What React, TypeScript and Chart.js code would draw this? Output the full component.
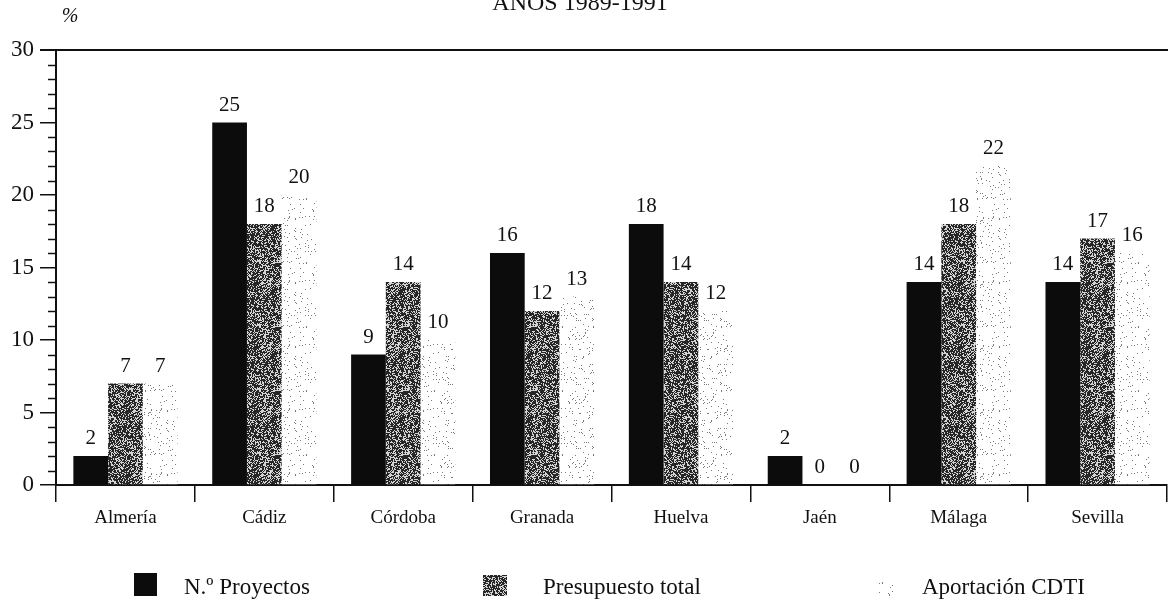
import React, { useEffect, useRef } from "react";
import { Chart, registerables } from "chart.js";

Chart.register(...registerables);

// ---- data ----
const title = "AÑOS 1989-1991";
const unitLabel = "%";
const provinces = ["Almería", "Cádiz", "Córdoba", "Granada", "Huelva", "Jaén", "Málaga", "Sevilla"];
const proyectos = [2, 25, 9, 16, 18, 2, 14, 14];
const presupuesto = [7, 18, 14, 12, 14, 0, 18, 17];
const aportacion = [7, 20, 10, 13, 12, 0, 22, 16];
const seriesNames = ["N.º Proyectos", "Presupuesto total", "Aportación CDTI"];
const yTicks = [0, 5, 10, 15, 20, 25, 30];

const SERIF = '"Liberation Serif", "Times New Roman", serif';
const INK = "#111111";

// deterministic per-pixel hash used for the stipple textures
function cellHash(x: number, y: number): number {
  let h = (Math.imul(x, 374761393) + Math.imul(y, 668265263)) | 0;
  h = Math.imul(h ^ (h >>> 13), 1274126177);
  h = h ^ (h >>> 16);
  return (h >>> 0) / 4294967296;
}

function stipple(base: string, dot: string, density: number, size = 64): CanvasPattern | string {
  const c = document.createElement("canvas");
  c.width = size;
  c.height = size;
  const g = c.getContext("2d");
  if (!g) return base;
  g.fillStyle = base;
  g.fillRect(0, 0, size, size);
  g.fillStyle = dot;
  for (let y = 0; y < size; y++) {
    for (let x = 0; x < size; x++) {
      if (cellHash(x, y) < density) g.fillRect(x, y, 1, 1);
    }
  }
  const p = g.createPattern(c, "repeat");
  return p || base;
}

// legend layout: swatch rect and text start
const legendSlots = [
  { x: 134, y: 573, w: 23, h: 23, tx: 184 },
  { x: 483, y: 575, w: 24, h: 21, tx: 543 },
  { x: 877, y: 579, w: 16, h: 18, tx: 922 },
];

const decorPlugin = {
  id: "decor",
  afterDraw(chart: any) {
    const ctx = chart.ctx as CanvasRenderingContext2D;
    const ys = chart.scales.y;
    const area = chart.chartArea;
    ctx.save();

    // top rule at the maximum of the scale
    const yTop = ys.getPixelForValue(30);
    ctx.strokeStyle = INK;
    ctx.lineWidth = 2;
    ctx.beginPath();
    ctx.moveTo(40, yTop);
    ctx.lineTo(chart.width, yTop);
    ctx.stroke();

    // minor ticks on the value axis
    ctx.lineWidth = 1.5;
    for (let v = 0; v <= 30; v++) {
      if (v % 5 === 0) continue;
      const py = Math.round(ys.getPixelForValue(v)) + 0.5;
      ctx.beginPath();
      ctx.moveTo(area.left - 8, py);
      ctx.lineTo(area.left, py);
      ctx.stroke();
    }

    // value labels above the bars
    ctx.fillStyle = INK;
    ctx.font = `21px ${SERIF}`;
    ctx.textAlign = "center";
    ctx.textBaseline = "alphabetic";
    chart.data.datasets.forEach((ds: any, i: number) => {
      const meta = chart.getDatasetMeta(i);
      meta.data.forEach((bar: any, j: number) => {
        ctx.fillText(String(ds.data[j]), bar.x, bar.y - 12);
      });
    });

    // unit and title
    ctx.font = `italic 20px ${SERIF}`;
    ctx.fillText(unitLabel, 70, 22);
    ctx.font = `24px ${SERIF}`;
    ctx.fillText(title, 580, 10);

    // legend
    ctx.textAlign = "left";
    ctx.font = `23px ${SERIF}`;
    chart.data.datasets.forEach((ds: any, i: number) => {
      const s = legendSlots[i];
      ctx.fillStyle = ds.backgroundColor;
      ctx.fillRect(s.x, s.y, s.w, s.h);
      ctx.fillStyle = INK;
      ctx.fillText(ds.label, s.tx, 594);
    });

    ctx.restore();
  },
};

export default function App() {
  const ref = useRef<HTMLCanvasElement | null>(null);

  useEffect(() => {
    const canvas = ref.current;
    if (!canvas) return;
    const darkStipple = stipple("#262626", "#d4d4d4", 0.36);
    const lightStipple = stipple("#ffffff", "#7a7a7a", 0.045);

    const chart = new Chart(canvas, {
      type: "bar",
      data: {
        labels: provinces,
        datasets: [
          { label: seriesNames[0], data: proyectos, backgroundColor: "#0c0c0c", borderWidth: 0 },
          { label: seriesNames[1], data: presupuesto, backgroundColor: darkStipple as any, borderWidth: 0 },
          { label: seriesNames[2], data: aportacion, backgroundColor: lightStipple as any, borderWidth: 0 },
        ],
      },
      options: {
        responsive: false,
        animation: false,
        events: [],
        layout: { padding: { top: 50, right: 1, left: 0, bottom: 0 } },
        datasets: { bar: { categoryPercentage: 0.75, barPercentage: 1.0 } },
        plugins: {
          legend: { display: false },
          tooltip: { enabled: false },
          title: { display: false },
        },
        scales: {
          x: {
            type: "category",
            offset: true,
            grid: {
              offset: true,
              drawOnChartArea: false,
              drawTicks: true,
              tickLength: 17,
              color: INK,
              lineWidth: 1.5,
            },
            border: { display: true, color: INK, width: 2 },
            ticks: {
              color: INK,
              font: { family: SERIF, size: 19 },
              padding: 5,
              maxRotation: 0,
              autoSkip: false,
            },
            afterFit: (s: any) => {
              s.height = 115;
            },
          },
          y: {
            min: 0,
            max: 30,
            afterBuildTicks: (s: any) => {
              s.ticks = yTicks.map((v) => ({ value: v }));
            },
            ticks: {
              color: INK,
              font: { family: SERIF, size: 23 },
              padding: 6,
            },
            grid: {
              drawOnChartArea: false,
              drawTicks: true,
              tickLength: 16,
              color: INK,
              lineWidth: 1.5,
            },
            border: { display: true, color: INK, width: 2 },
            afterFit: (s: any) => {
              s.width = 56;
            },
          },
        },
      } as any,
      plugins: [decorPlugin],
    });

    return () => chart.destroy();
  }, []);

  return (
    <div style={{ position: "fixed", left: 0, top: 0, width: 1168, height: 600, background: "#ffffff" }}>
      <canvas ref={ref} width={1168} height={600} style={{ display: "block" }} />
    </div>
  );
}
